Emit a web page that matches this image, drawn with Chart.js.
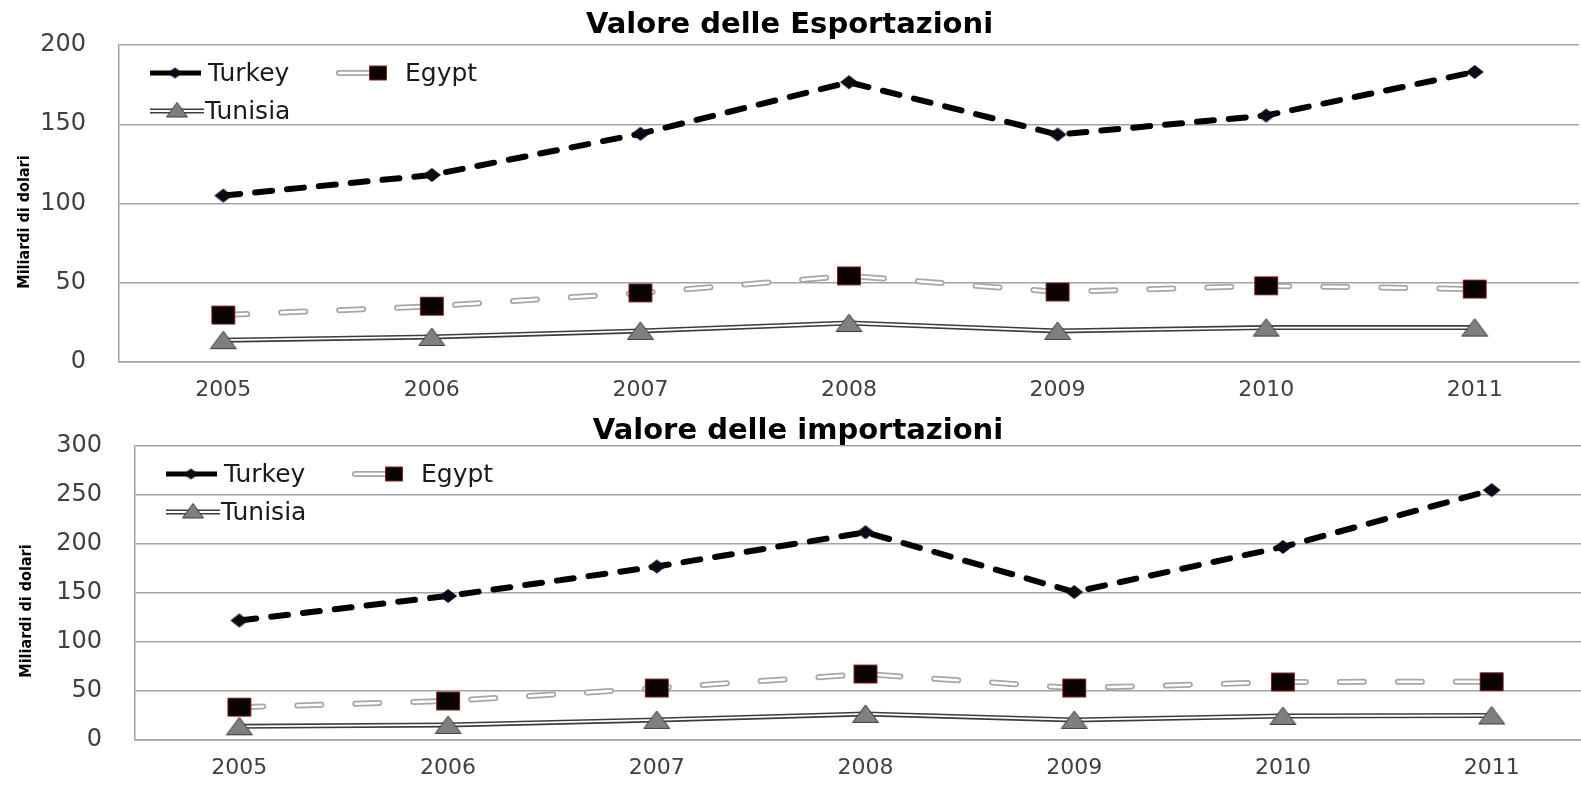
<!DOCTYPE html>
<html><head><meta charset="utf-8">
<script src="https://cdn.jsdelivr.net/npm/chart.js@4.4.1/dist/chart.umd.min.js"></script>
<style>
html,body{margin:0;padding:0;background:#fff;overflow:hidden;width:1581px;height:785px;position:relative;}
#c1{position:absolute;left:0;top:0;}
#c2{position:absolute;left:0;top:395px;}
</style></head><body>
<canvas id="c1" width="1581" height="410"></canvas>
<canvas id="c2" width="1598" height="390"></canvas>
<script>
// ---------- DATA ----------
const years = ['2005', '2006', '2007', '2008', '2009', '2010', '2011'];
const seriesNames = ['Turkey', 'Egypt', 'Tunisia'];

const turkeyExports  = [105, 118, 144, 176.5, 143.5, 155.5, 183];
const egyptExports   = [29.6, 35.2, 43.6, 54.3, 44.2, 48.1, 46.0];
const tunisiaExports = [13.8, 15.8, 19.6, 24.6, 19.6, 21.7, 21.7];

const turkeyImports  = [122, 147, 177, 212, 151, 197, 255];
const egyptImports   = [33.5, 39.8, 53, 67.3, 53, 59.2, 59.5];
const tunisiaImports = [14, 15.4, 20.5, 26.6, 20.5, 24.5, 25];

const exportTicks = [0, 50, 100, 150, 200];
const importTicks = [0, 50, 100, 150, 200, 250, 300];

const exportTitle = 'Valore delle Esportazioni';
const importTitle = 'Valore delle importazioni';
const yAxisTitle = 'Miliardi di dolari';

// ---------- STYLE ----------
const FONT = "'DejaVu Sans', sans-serif";
const GRID = '#a3a3a3';

function makeMarker(shape, w, h) {
  const c = document.createElement('canvas');
  c.width = w + 2; c.height = h + 2;
  const x = c.getContext('2d');
  x.beginPath();
  if (shape === 'diamond') {
    x.moveTo(w / 2 + 1, 1); x.lineTo(w + 1, h / 2 + 1); x.lineTo(w / 2 + 1, h + 1); x.lineTo(1, h / 2 + 1);
    x.closePath(); x.fillStyle = '#0b0b18'; x.fill();
  } else if (shape === 'square') {
    x.rect(1.5, 1.5, w - 1, h - 1);
    x.fillStyle = '#0a0203'; x.fill(); x.lineWidth = 1; x.strokeStyle = '#8a2222'; x.stroke();
  } else {
    x.moveTo(w / 2 + 1, 1); x.lineTo(w + 0.5, h + 0.5); x.lineTo(1.5, h + 0.5); x.closePath();
    x.fillStyle = '#7f7f7f'; x.fill(); x.lineWidth = 1; x.strokeStyle = '#3c3c3c'; x.stroke();
  }
  return c;
}
const mk = {
  diamond: makeMarker('diamond', 18, 14),
  square: makeMarker('square', 24, 19),
  triangle: makeMarker('triangle', 27, 18),
  lDiamond: makeMarker('diamond', 15, 11),
  lSquare: makeMarker('square', 18, 15),
  lTriangle: makeMarker('triangle', 22, 15)
};

const TURKEY_DASH = [17, 15];
const EGYPT_DASH = [24, 34];

function buildDatasets(tk, eg, tn) {
  return [
    { label: seriesNames[0], data: tk, borderColor: '#000', borderWidth: 6, borderDash: TURKEY_DASH,
      borderCapStyle: 'round', pointStyle: mk.diamond, pointRadius: 9, order: 0, tension: 0 },
    { label: seriesNames[1] + ' outline', data: eg, borderColor: '#a6a6a6', borderWidth: 6, borderDash: EGYPT_DASH,
      borderCapStyle: 'round', pointRadius: 0, order: 3 },
    { label: seriesNames[1], data: eg, borderColor: '#ffffff', borderWidth: 2.5, borderDash: EGYPT_DASH,
      borderCapStyle: 'round', pointStyle: mk.square, pointRadius: 12, order: 2 },
    { label: seriesNames[2] + ' outline', data: tn, borderColor: '#3c3c3c', borderWidth: 5, pointRadius: 0, order: 5 },
    { label: seriesNames[2], data: tn, borderColor: '#ffffff', borderWidth: 1.8, pointStyle: mk.triangle, pointRadius: 12, order: 4 }
  ];
}

const overlay = {
  id: 'overlay',
  afterDraw(chart, args, o) {
    const ctx = chart.ctx, a = chart.chartArea;
    // y axis title
    ctx.save();
    ctx.translate(o.yTitleX, o.yTitleY);
    ctx.rotate(-Math.PI / 2);
    ctx.font = "bold 16px 'Liberation Sans Narrow', 'DejaVu Sans Condensed', sans-serif";
    ctx.fillStyle = '#000';
    ctx.textAlign = 'center'; ctx.textBaseline = 'middle';
    ctx.fillText(yAxisTitle, 0, 0);
    ctx.restore();
    // legend
    ctx.save();
    const L = a.left, T = a.top;
    const r1 = T + 28, r2 = T + 66;
    ctx.lineCap = 'butt';
    // Turkey
    ctx.beginPath(); ctx.moveTo(L + 31, r1); ctx.lineTo(L + 82, r1);
    ctx.strokeStyle = '#000'; ctx.lineWidth = 5; ctx.stroke();
    ctx.drawImage(mk.lDiamond, L + 56 - mk.lDiamond.width / 2, r1 - mk.lDiamond.height / 2);
    // Egypt
    ctx.lineCap = 'round';
    ctx.beginPath(); ctx.moveTo(L + 220, r1); ctx.lineTo(L + 250, r1);
    ctx.strokeStyle = '#a6a6a6'; ctx.lineWidth = 6; ctx.stroke();
    ctx.strokeStyle = '#fff'; ctx.lineWidth = 2.5; ctx.stroke();
    ctx.drawImage(mk.lSquare, L + 259 - mk.lSquare.width / 2, r1 - mk.lSquare.height / 2);
    // Tunisia
    ctx.lineCap = 'butt';
    ctx.beginPath(); ctx.moveTo(L + 31, r2); ctx.lineTo(L + 85, r2);
    ctx.strokeStyle = '#3c3c3c'; ctx.lineWidth = 5; ctx.stroke();
    ctx.strokeStyle = '#fff'; ctx.lineWidth = 1.8; ctx.stroke();
    ctx.drawImage(mk.lTriangle, L + 58 - mk.lTriangle.width / 2, r2 - mk.lTriangle.height / 2 - 1);
    // text
    ctx.font = '25px ' + FONT;
    ctx.fillStyle = '#1a1a1a';
    ctx.textAlign = 'left'; ctx.textBaseline = 'middle';
    ctx.fillText(seriesNames[0], L + 89, r1 + 1);
    ctx.fillText(seriesNames[1], L + 286, r1 + 1);
    ctx.fillText(seriesNames[2], L + 86, r2 + 1);
    ctx.restore();
  }
};

function makeChart(id, title, tk, eg, tn, ticks, cfg) {
  return new Chart(document.getElementById(id), {
    type: 'line',
    data: { labels: years, datasets: buildDatasets(tk, eg, tn) },
    plugins: [overlay],
    options: {
      responsive: false,
      animation: false,
      events: [],
      layout: { autoPadding: false, padding: { left: 0, right: cfg.padRight, top: 0, bottom: 0 } },
      plugins: {
        legend: { display: false },
        tooltip: { enabled: false },
        title: {
          display: true, text: title, color: '#000',
          font: { family: FONT, size: 29, weight: 'bold', lineHeight: 1 },
          padding: { top: cfg.titleTop, bottom: cfg.titleBottom }
        },
        overlay: { yTitleX: cfg.yTitleX, yTitleY: cfg.yTitleY }
      },
      scales: {
        x: {
          offset: true,
          afterFit: (s) => { s.height = cfg.xHeight; },
          grid: { display: false, drawTicks: false },
          border: { display: true, color: GRID, width: 1.5 },
          ticks: { color: '#404040', font: { family: FONT, size: 22, lineHeight: 1 }, padding: cfg.xPad, maxRotation: 0, autoSkip: false }
        },
        y: {
          min: ticks[0], max: ticks[ticks.length - 1],
          afterFit: (s) => { s.width = cfg.axisLeft; },
          afterBuildTicks: (s) => { s.ticks = ticks.map(v => ({ value: v })); },
          grid: { color: GRID, lineWidth: 1.5, drawTicks: false },
          border: { display: true, color: GRID, width: 1.5 },
          ticks: { color: '#404040', font: { family: FONT, size: 24, lineHeight: 1 }, padding: 33 }
        }
      }
    }
  });
}

makeChart('c1', exportTitle, turkeyExports, egyptExports, tunisiaExports, exportTicks,
  { padRight: 2, titleTop: 6, titleBottom: 5, xHeight: 48, xPad: 17, axisLeft: 119, yTitleX: 25, yTitleY: 222 });
makeChart('c2', importTitle, turkeyImports, egyptImports, tunisiaImports, importTicks,
  { padRight: 2, titleTop: 22, titleBottom: 0, xHeight: 37, xPad: 17, axisLeft: 135, yTitleX: 27, yTitleY: 216 });
</script>
</body></html>
